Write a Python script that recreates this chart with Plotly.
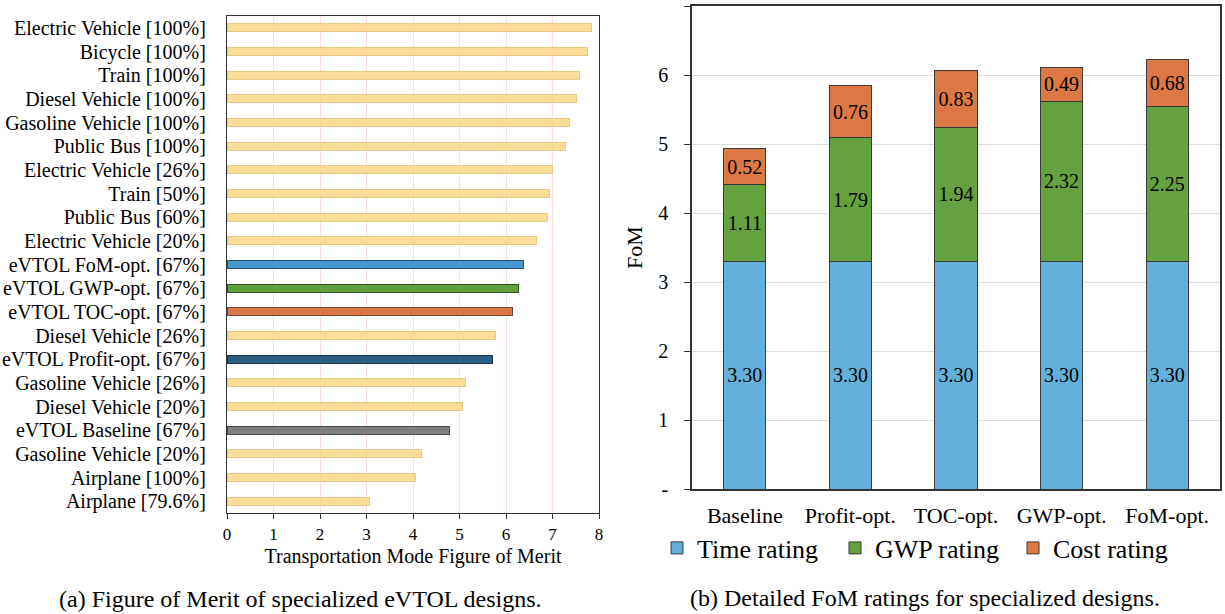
import plotly.graph_objects as go

# ---- Panel (a): figure of merit by transportation mode ----
modes = [
    "Electric Vehicle [100%]", "Bicycle [100%]", "Train [100%]",
    "Diesel Vehicle [100%]", "Gasoline Vehicle [100%]", "Public Bus [100%]",
    "Electric Vehicle [26%]", "Train [50%]", "Public Bus [60%]",
    "Electric Vehicle [20%]", "eVTOL FoM-opt. [67%]", "eVTOL GWP-opt. [67%]",
    "eVTOL TOC-opt. [67%]", "Diesel Vehicle [26%]", "eVTOL Profit-opt. [67%]",
    "Gasoline Vehicle [26%]", "Diesel Vehicle [20%]", "eVTOL Baseline [67%]",
    "Gasoline Vehicle [20%]", "Airplane [100%]", "Airplane [79.6%]",
]
mode_fom = [
    7.84, 7.75, 7.59, 7.52, 7.36, 7.27, 6.99, 6.93, 6.89, 6.65, 6.37,
    6.27, 6.14, 5.77, 5.71, 5.12, 5.06, 4.78, 4.19, 4.05, 3.06,
]
# design group of each mode (conventional modes share one style)
mode_group = [
    "other", "other", "other", "other", "other", "other", "other", "other",
    "other", "other", "fom", "gwp", "toc", "other", "profit", "other",
    "other", "base", "other", "other", "other",
]

# ---- Panel (b): FoM rating breakdown ----
designs = ["Baseline", "Profit-opt.", "TOC-opt.", "GWP-opt.", "FoM-opt."]
time_rating = [3.30, 3.30, 3.30, 3.30, 3.30]
gwp_rating = [1.11, 1.79, 1.94, 2.32, 2.25]
cost_rating = [0.52, 0.76, 0.83, 0.49, 0.68]
fom_ticks = [0, 1, 2, 3, 4, 5, 6, 7]
fom_tick_text = ["-", "1", "2", "3", "4", "5", "6", "7"]

FONT = "Liberation Serif"
W, H = 1225, 614

group_fill = {
    "other": "rgba(250,214,135,0.85)",
    "fom": "#4698CD",
    "gwp": "#62A03E",
    "toc": "#DB7644",
    "profit": "#2C5E82",
    "base": "#7F7F7F",
}
group_edge = {
    "other": "rgba(230,196,130,0.9)",
    "fom": "#2E4F66",
    "gwp": "#34502A",
    "toc": "#6E4A38",
    "profit": "#1E3448",
    "base": "#4A4A4A",
}

fig = go.Figure()

fig.add_trace(go.Bar(
    x=mode_fom, y=modes, orientation="h",
    marker=dict(
        color=[group_fill[g] for g in mode_group],
        line=dict(color=[group_edge[g] for g in mode_group], width=1),
    ),
    width=0.34, showlegend=False, hoverinfo="x+y",
    xaxis="x", yaxis="y",
))

c_time, c_gwp, c_cost = "#63B0DC", "#63A23F", "#DD7845"
for name, vals, col in [("Time rating", time_rating, c_time),
                        ("GWP rating", gwp_rating, c_gwp),
                        ("Cost rating", cost_rating, c_cost)]:
    fig.add_trace(go.Bar(
        x=designs, y=vals, name=name,
        marker=dict(color=col, line=dict(color="#3A3A3A", width=1)),
        text=[f"{v:.2f}" for v in vals], textposition="inside",
        insidetextanchor="middle", constraintext="none", textangle=0,
        textfont=dict(family=FONT, size=20, color="black"),
        width=0.40, xaxis="x2", yaxis="y2",
    ))

fig.update_layout(
    width=W, height=H,
    margin=dict(l=0, r=0, t=0, b=0, autoexpand=False),
    paper_bgcolor="white", plot_bgcolor="white",
    font=dict(family=FONT, color="black"),
    barmode="stack",
    xaxis=dict(
        domain=[227 / W, 599 / W], anchor="y", range=[0, 8], automargin=False,
        tickvals=list(range(9)), ticks="outside", ticklen=5, tickcolor="#333",
        showgrid=True, gridcolor="rgba(240,170,140,0.35)", gridwidth=1,
        showline=True, linecolor="#333", linewidth=1.3, mirror=True,
        zeroline=False, tickfont=dict(size=17),
        title=dict(text="Transportation Mode Figure of Merit",
                   font=dict(size=20), standoff=6),
    ),
    yaxis=dict(
        domain=[1 - 513 / H, 1 - 16 / H], anchor="x", automargin=False,
        autorange="reversed", type="category",
        tickmode="array", tickvals=modes, ticktext=modes,
        showline=True, linecolor="#333", linewidth=1.3, mirror=True,
        ticks="outside", ticklen=16, tickcolor="rgba(0,0,0,0)",
        tickfont=dict(size=20), showgrid=False,
    ),
    xaxis2=dict(
        domain=[692 / W, 1220 / W], anchor="y2", range=[-0.5, 4.5],
        automargin=False,
        showline=True, linecolor="#333", linewidth=1.6, mirror=True,
        ticks="outside", ticklen=6, tickcolor="rgba(0,0,0,0)",
        tickfont=dict(size=22), showgrid=False,
    ),
    yaxis2=dict(
        domain=[1 - 489 / H, 1 - 6 / H], anchor="x2", range=[0, 7],
        automargin=False,
        tickvals=fom_ticks, ticktext=fom_tick_text,
        ticks="outside", ticklen=6, tickcolor="#333", ticklabelstandoff=12,
        showgrid=True, gridcolor="#DDDDDD", gridwidth=1,
        showline=True, linecolor="#333", linewidth=1.6, mirror=True,
        zeroline=False, tickfont=dict(size=20),
        title=dict(text="FoM", font=dict(size=22), standoff=10),
    ),
    legend=dict(
        orientation="h", x=657 / W, y=1 - 548 / H,
        xanchor="left", yanchor="middle",
        font=dict(size=26), entrywidth=133, entrywidthmode="pixels",
        bgcolor="rgba(0,0,0,0)", itemwidth=30, traceorder="normal",
    ),
    annotations=[
        dict(text="(a) Figure of Merit of specialized eVTOL designs.",
             x=300 / W, y=1 - 599 / H, xref="paper", yref="paper",
             showarrow=False, font=dict(size=24),
             xanchor="center", yanchor="middle"),
        dict(text="(b) Detailed FoM ratings for specialized designs.",
             x=925 / W, y=1 - 598 / H, xref="paper", yref="paper",
             showarrow=False, font=dict(size=24),
             xanchor="center", yanchor="middle"),
    ],
)

fig.write_html("out.html")
